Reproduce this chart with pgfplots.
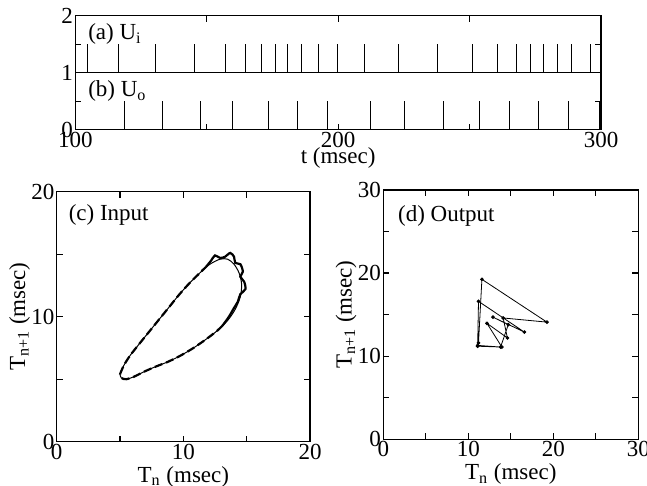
\documentclass[border=0pt]{standalone}
\usepackage{fontspec}
\setmainfont{Liberation Serif}
\usepackage{pgfplots}
\pgfplotsset{compat=1.18}
\pgfplotstableread{
t b
104.7 1
116.3 1
130.7 1
145.4 1
157.0 1
164.8 1
171.0 1
176.0 1
180.9 1
186.1 1
192.4 1
199.8 1
209.9 1
223.0 1
237.7 1
251.2 1
260.7 1
267.7 1
273.0 1
278.2 1
283.4 1
288.9 1
296.0 1
}\inspikes
\pgfplotstableread{
t b
118.7 0
133.0 0
147.6 0
159.7 0
173.5 0
184.6 0
195.8 0
212.3 0
225.2 0
239.9 0
253.6 0
265.0 0
276.4 0
287.5 0
299.4 0
}\outspikes
\begin{document}
\begin{tikzpicture}
\useasboundingbox (0pt,0pt) rectangle (323.5pt,243pt);
\pgfplotsset{every axis/.append style={
  font=\fontsize{11.5}{13.5}\selectfont,
  /pgf/number format/assume math mode=true,
  scale only axis, anchor=south west,
  axis line style={line width=0.7pt},
  tick style={line width=0.6pt, black},
  major tick length=3pt, minor tick length=3pt,
  xlabel style={inner sep=1pt},
  ylabel style={inner sep=1pt},
}}
% top panel
\begin{axis}[at={(37.65pt,178.15pt)}, width=262.85pt, height=57pt,
  xmin=100, xmax=300, ymin=0, ymax=2,
  xtick={100,200,300}, minor xtick={150,250},
  ytick={0,1,2}, minor ytick={0.5,1.5},
  xticklabel style={inner sep=1pt},
  yticklabel style={inner sep=1pt},
  xlabel={t (msec)}, xlabel style={yshift=2pt}]
\addplot[black, line width=0.7pt] coordinates {(100,1) (300,1)};
\addplot[black, line width=0.5pt, quiver={u=0, v=0.5}] table[x=t, y=b] {\inspikes};
\addplot[black, line width=0.5pt, quiver={u=0, v=0.5}] table[x=t, y=b] {\outspikes};
\node[anchor=west, inner sep=0pt] at (axis cs:104.8,1.68) {(a) U\textsubscript{i}};
\node[anchor=west, inner sep=0pt] at (axis cs:104.8,0.68) {(b) U\textsubscript{o}};
\end{axis}
% panel c
\begin{axis}[at={(28.35pt,22.15pt)}, width=126.65pt, height=125pt,
  xmin=0, xmax=20, ymin=0, ymax=20,
  xtick={0,10,20}, ytick={0,10,20}, minor tick num=1,
  xticklabel style={inner sep=1pt},
  yticklabel style={inner sep=1pt},
  xlabel={T\textsubscript{n} (msec)}, xlabel shift=1.2pt,
  ylabel={T\textsubscript{n+1} (msec)}, ylabel shift=-1.5pt]
\addplot[black, line width=0.5pt, smooth] coordinates {
(5.0,5.4) (5.3,6.1) (5.8,6.9) (6.5,7.8) (7.3,8.8) (8.1,9.8) (8.9,10.8)
(9.7,11.8) (10.5,12.7) (11.3,13.5) (12.1,14.2) (12.9,14.6) (13.5,14.6)
(14.0,14.2) (14.4,13.5) (14.6,12.6) (14.5,11.6) (14.1,10.6) (13.5,9.7)
(12.7,8.9) (11.8,8.2) (10.8,7.5) (9.8,6.9) (8.8,6.4) (7.8,6.0) (6.9,5.6)
(6.1,5.2) (5.5,5.0) (5.1,5.1) (5.0,5.4)};
\addplot[black, line width=1.1pt, dash pattern=on 4pt off 2pt, smooth] coordinates {
(5.0,5.4) (5.3,6.1) (5.8,6.9) (6.5,7.8) (7.3,8.8) (8.1,9.8) (8.9,10.8)
(9.7,11.8) (10.5,12.7) (11.3,13.5) (11.8,14.0)};
\addplot[black, line width=1.1pt, smooth] coordinates {
(11.8,14.0) (12.2,14.5) (12.5,14.9) (12.9,14.7) (13.3,14.8) (13.7,15.1)
(14.0,14.8) (14.1,14.3) (14.5,14.2) (14.7,13.6) (14.5,13.2) (14.8,12.8)
(14.9,12.2) (14.5,11.8) (14.3,11.2) (14.0,10.7) (13.6,10.0) (13.1,9.3)};
\addplot[black, line width=1.1pt, dash pattern=on 4pt off 2pt, smooth] coordinates {
(13.1,9.3) (12.7,8.9) (11.8,8.2) (10.8,7.5) (9.8,6.9) (8.8,6.4) (7.8,6.0)
(6.9,5.6) (6.1,5.2) (5.5,5.0) (5.1,5.1) (5.0,5.4)};
\node[anchor=west, inner sep=0pt] at (axis cs:0.92,18.1) {(c) Input};
\end{axis}
% panel d
\begin{axis}[at={(191.65pt,23.35pt)}, width=127.5pt, height=124.65pt,
  xmin=0, xmax=30, ymin=0, ymax=30,
  xtick={0,10,20,30}, ytick={0,10,20,30}, minor tick num=1,
  xticklabel style={inner sep=1pt},
  yticklabel style={inner sep=1pt},
  xlabel={T\textsubscript{n} (msec)}, xlabel shift=1.2pt,
  ylabel={T\textsubscript{n+1} (msec)}, ylabel shift=-1.5pt]
\addplot[black, line width=0.4pt, mark=*, mark size=0.7pt] coordinates {
(11.2,11.6) (11.6,19.25) (19.25,14.1) (14.1,14.6) (14.6,12.2) (12.2,13.95)
(13.95,11.1) (11.1,11.2) (11.2,16.6) (16.6,12.9) (12.9,14.7) (14.7,13.8)
(13.8,11.1) (11.1,11.3)};
\node[anchor=west, inner sep=0pt] at (axis cs:1.7,26.9) {(d) Output};
\end{axis}
\end{tikzpicture}
\end{document}
